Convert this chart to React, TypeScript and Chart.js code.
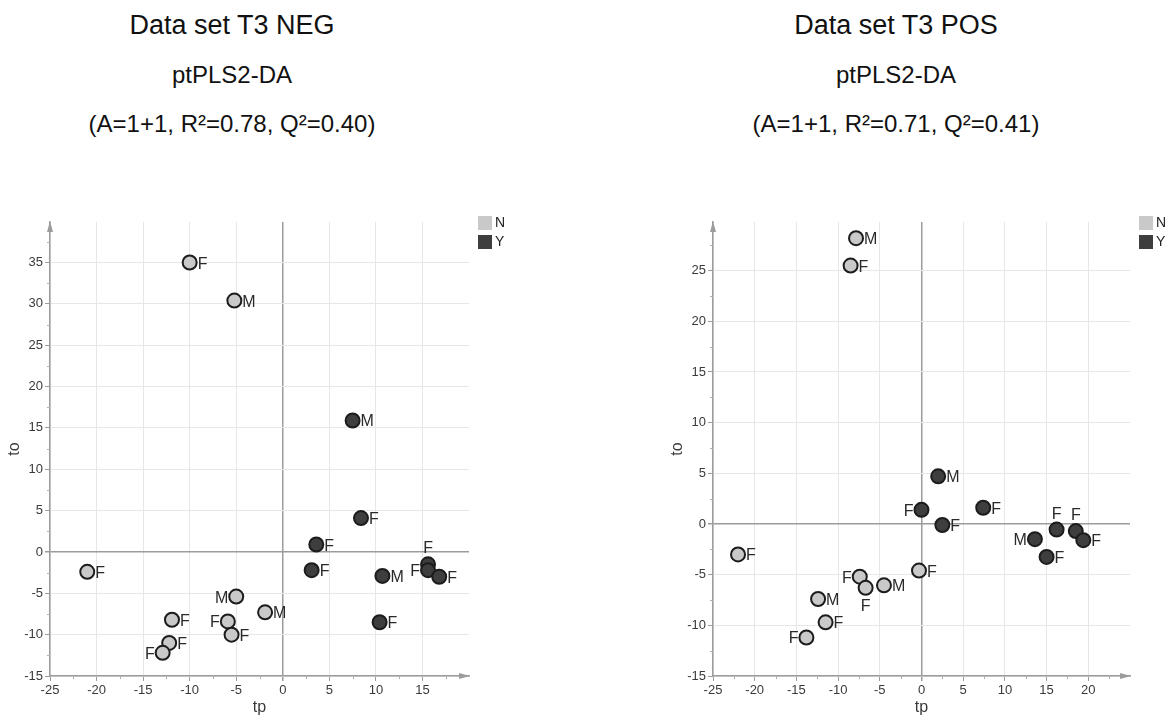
import React, { useEffect, useRef } from "react";
import { Chart, registerables } from "chart.js";

Chart.register(...registerables);
Chart.defaults.font.family = '"Liberation Sans", Arial, Helvetica, sans-serif';

// ---------- Data set T3 NEG ----------
const negN_tp = [-10, -5.2, -21, -5, -1.9, -11.9, -5.9, -5.5, -12.2, -12.9];
const negN_to = [35, 30.4, -2.4, -5.4, -7.3, -8.2, -8.4, -10, -11, -12.2];
const negN_lbl = ["F", "M", "F", "M", "M", "F", "F", "F", "F", "F"];
const negN_side = ["r", "r", "r", "l", "r", "r", "l", "r", "r", "l"];

const negY_tp = [7.5, 8.4, 3.6, 3.1, 10.7, 15.6, 15.6, 16.8, 10.4];
const negY_to = [15.9, 4.1, 0.9, -2.2, -2.9, -1.5, -2.2, -3.0, -8.5];
const negY_lbl = ["M", "F", "F", "F", "M", "F", "F", "F", "F"];
const negY_side = ["r", "r", "r", "r", "r", "t", "l", "r", "r"];

const negXTicks = [-25, -20, -15, -10, -5, 0, 5, 10, 15];
const negYTicks = [-15, -10, -5, 0, 5, 10, 15, 20, 25, 30, 35];
const negXRange = [-25, 20];
const negYRange = [-15, 39.9];

// ---------- Data set T3 POS ----------
const posN_tp = [-7.85, -8.5, -22, -7.4, -6.7, -4.5, -0.3, -12.4, -11.5, -13.8];
const posN_to = [28.2, 25.5, -3, -5.2, -6.3, -6.05, -4.6, -7.4, -9.7, -11.2];
const posN_lbl = ["M", "F", "F", "F", "F", "M", "F", "M", "F", "F"];
const posN_side = ["r", "r", "r", "l", "b", "r", "r", "r", "r", "l"];

const posY_tp = [2.0, 0, 2.5, 7.4, 13.6, 15.0, 16.2, 18.5, 19.4];
const posY_to = [4.7, 1.4, -0.1, 1.6, -1.5, -3.25, -0.55, -0.7, -1.6];
const posY_lbl = ["M", "F", "F", "F", "M", "F", "F", "F", "F"];
const posY_side = ["r", "l", "r", "r", "l", "r", "t", "t", "r"];

const posXTicks = [-25, -20, -15, -10, -5, 0, 5, 10, 15, 20];
const posYTicks = [-15, -10, -5, 0, 5, 10, 15, 20, 25];
const posXRange = [-25, 25];
const posYRange = [-15, 29.8];

const groupNames = ["N", "Y"];
const xTitle = "tp";
const yTitle = "to";

const negTitle = ["Data set T3 NEG", "ptPLS2-DA", "(A=1+1, R²=0.78, Q²=0.40)"];
const posTitle = ["Data set T3 POS", "ptPLS2-DA", "(A=1+1, R²=0.71, Q²=0.41)"];

// ---------- styles ----------
const FILL_N = "#c9c9c9";
const FILL_Y = "#3e3e3e";
const EDGE = "#1c1c1c";
const AXIS = "#9c9c9c";
const GRID = "#e7e7e7";
const TXT = "#3a3a3a";

const pointLabelPlugin = {
  id: "pointLabelPlugin",
  afterDatasetsDraw(chart: any) {
    const ctx = chart.ctx;
    ctx.save();
    ctx.font = '16px "Liberation Sans", Arial, sans-serif';
    ctx.fillStyle = "#2a2a2a";
    ctx.textBaseline = "alphabetic";
    chart.data.datasets.forEach((ds: any, di: number) => {
      const meta = chart.getDatasetMeta(di);
      meta.data.forEach((pt: any, i: number) => {
        const t = ds.pointLabels[i];
        const s = ds.labelSides[i];
        const x = pt.x;
        const y = pt.y;
        if (s === "r") {
          ctx.textAlign = "left";
          ctx.fillText(t, x + 8, y + 6);
        } else if (s === "l") {
          ctx.textAlign = "right";
          ctx.fillText(t, x - 8, y + 6);
        } else if (s === "t") {
          ctx.textAlign = "center";
          ctx.fillText(t, x, y - 11);
        } else {
          ctx.textAlign = "center";
          ctx.fillText(t, x, y + 23);
        }
      });
    });
    ctx.restore();
  },
};

const decorPlugin = {
  id: "decorPlugin",
  afterDraw(chart: any) {
    const ctx = chart.ctx;
    const a = chart.chartArea;
    const xs = chart.scales.x;
    const ys = chart.scales.y;
    ctx.save();
    // arrows
    ctx.fillStyle = AXIS;
    ctx.beginPath();
    ctx.moveTo(a.left, a.top - 1);
    ctx.lineTo(a.left - 3, a.top + 10);
    ctx.lineTo(a.left + 3, a.top + 10);
    ctx.closePath();
    ctx.fill();
    ctx.beginPath();
    ctx.moveTo(a.right + 1, a.bottom);
    ctx.lineTo(a.right - 10, a.bottom - 3);
    ctx.lineTo(a.right - 10, a.bottom + 3);
    ctx.closePath();
    ctx.fill();
    // minor ticks
    ctx.strokeStyle = "#b0b0b0";
    ctx.lineWidth = 1;
    for (let k = 1; xs.min + k * 2.5 < xs.max - 1; k += 2) {
      const px = Math.round(xs.getPixelForValue(xs.min + k * 2.5)) + 0.5;
      ctx.beginPath();
      ctx.moveTo(px, a.bottom);
      ctx.lineTo(px, a.bottom + 3);
      ctx.stroke();
    }
    for (let k = 1; ys.min + k * 2.5 < ys.max - 1; k += 2) {
      const py = Math.round(ys.getPixelForValue(ys.min + k * 2.5)) + 0.5;
      ctx.beginPath();
      ctx.moveTo(a.left, py);
      ctx.lineTo(a.left - 3, py);
      ctx.stroke();
    }
    // legend
    chart.data.datasets.forEach((ds: any, i: number) => {
      const top = a.top - 6 + i * 19;
      ctx.fillStyle = ds.backgroundColor;
      ctx.fillRect(a.right + 9, top, 14, 14);
      ctx.fillStyle = "#222";
      ctx.font = '14px "Liberation Sans", Arial, sans-serif';
      ctx.textBaseline = "middle";
      ctx.textAlign = "left";
      ctx.fillText(ds.label, a.right + 26, top + 7.5);
    });
    ctx.restore();
  },
};

function makeDataset(label: string, xs: number[], ys: number[], lbls: string[], sides: string[], fill: string) {
  return {
    label,
    data: xs.map((x, i) => ({ x, y: ys[i] })),
    pointLabels: lbls,
    labelSides: sides,
    backgroundColor: fill,
    borderColor: EDGE,
    borderWidth: 2,
    pointRadius: 7,
    pointHoverRadius: 7,
  };
}

function axis(range: number[], ticks: number[], title: string, horizontal: boolean) {
  return {
    type: "linear",
    position: horizontal ? "bottom" : "left",
    min: range[0],
    max: range[1],
    afterBuildTicks: (s: any) => {
      s.ticks = ticks.map((v) => ({ value: v }));
    },
    afterFit: (s: any) => {
      if (horizontal) s.height = 41;
      else s.width = 50;
    },
    grid: {
      color: (c: any) => (c.tick && c.tick.value === 0 ? AXIS : GRID),
      lineWidth: (c: any) => (c.tick && c.tick.value === 0 ? 1.5 : 1),
      tickColor: AXIS,
      tickLength: 5,
      drawTicks: true,
    },
    border: { display: true, color: AXIS, width: 1.5 },
    ticks: {
      font: { size: 13 },
      color: TXT,
      padding: 2,
      maxRotation: 0,
      autoSkip: false,
    },
    title: {
      display: true,
      text: title,
      font: { size: 16 },
      color: TXT,
      padding: horizontal ? { top: 0, bottom: 0 } : { top: 5, bottom: 0 },
    },
  };
}

type PanelProps = {
  left: number;
  width: number;
  padL: number;
  padR: number;
  datasets: any[];
  xRange: number[];
  yRange: number[];
  xTicks: number[];
  yTicks: number[];
};

function Panel(p: PanelProps) {
  const ref = useRef<HTMLCanvasElement>(null);
  useEffect(() => {
    const chart = new Chart(ref.current as HTMLCanvasElement, {
      type: "scatter",
      data: { datasets: p.datasets },
      options: {
        animation: false,
        responsive: false,
        events: [],
        layout: { padding: { left: p.padL, right: p.padR, top: 222, bottom: 0 } },
        plugins: { legend: { display: false }, tooltip: { enabled: false } },
        scales: {
          x: axis(p.xRange, p.xTicks, xTitle, true),
          y: axis(p.yRange, p.yTicks, yTitle, false),
        },
      } as any,
      plugins: [pointLabelPlugin, decorPlugin],
    });
    return () => chart.destroy();
  }, []);
  return (
    <canvas
      ref={ref}
      width={p.width}
      height={717}
      style={{ position: "absolute", left: p.left, top: 0, width: p.width, height: 717 }}
    />
  );
}

function Titles({ cx, lines }: { cx: number; lines: string[] }) {
  const specs = [
    { size: 27, top: 11.5 },
    { size: 24, top: 63.3 },
    { size: 24, top: 112 },
  ];
  return (
    <>
      {lines.map((t, i) => (
        <div
          key={i}
          style={{
            position: "absolute",
            left: cx - 300,
            width: 600,
            top: specs[i].top,
            fontSize: specs[i].size,
            lineHeight: 1,
            textAlign: "center",
            color: "#111",
            fontFamily: '"Liberation Sans", Arial, sans-serif',
            whiteSpace: "nowrap",
          }}
        >
          {t}
        </div>
      ))}
    </>
  );
}

export default function App() {
  const negSets = [
    makeDataset(groupNames[0], negN_tp, negN_to, negN_lbl, negN_side, FILL_N),
    makeDataset(groupNames[1], negY_tp, negY_to, negY_lbl, negY_side, FILL_Y),
  ];
  const posSets = [
    makeDataset(groupNames[0], posN_tp, posN_to, posN_lbl, posN_side, FILL_N),
    makeDataset(groupNames[1], posY_tp, posY_to, posY_lbl, posY_side, FILL_Y),
  ];
  return (
    <div
      style={{
        position: "absolute",
        left: 0,
        top: 0,
        width: 1171,
        height: 717,
        background: "#fff",
        overflow: "hidden",
      }}
    >
      <Titles cx={232} lines={negTitle} />
      <Titles cx={896} lines={posTitle} />
      <Panel
        left={0}
        width={585}
        padL={0}
        padR={116}
        datasets={negSets}
        xRange={negXRange}
        yRange={negYRange}
        xTicks={negXTicks}
        yTicks={negYTicks}
      />
      <Panel
        left={585}
        width={586}
        padL={78}
        padR={41}
        datasets={posSets}
        xRange={posXRange}
        yRange={posYRange}
        xTicks={posXTicks}
        yTicks={posYTicks}
      />
    </div>
  );
}
